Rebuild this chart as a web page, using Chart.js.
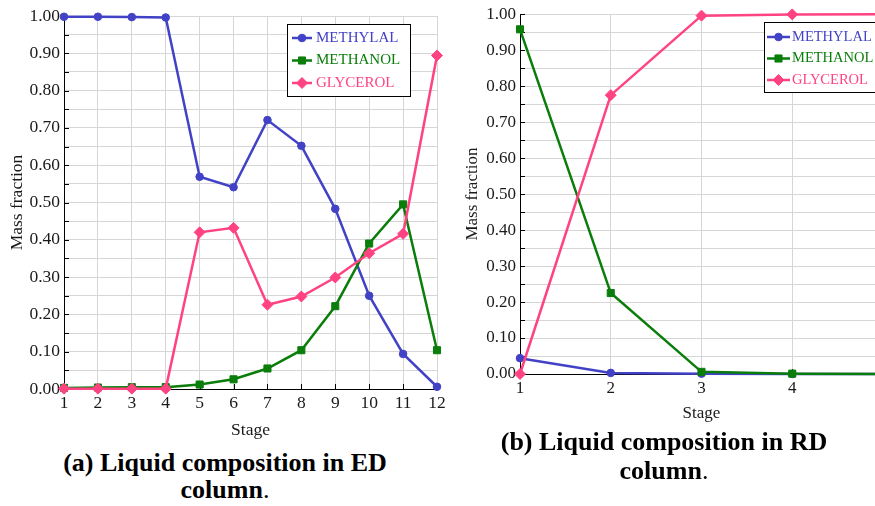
<!DOCTYPE html>
<html>
<head>
<meta charset="utf-8">
<script src="https://cdn.jsdelivr.net/npm/chart.js@4"></script>
<style>
  html, body { margin: 0; padding: 0; background: #fff; width: 875px; height: 506px; overflow: hidden; }
  .wrap { position: absolute; top: 0; }
  canvas { display: block; }
  .cap { position: absolute; text-align: center; font-family: 'Liberation Serif', 'Times New Roman', serif; font-weight: bold; font-size: 26px; color: #000; white-space: nowrap; }
  .cap .dot { font-weight: normal; }
</style>
</head>
<body>
<div class="wrap" style="left:0;"><canvas id="chartA" width="450" height="441"></canvas></div>
<div class="wrap" style="left:450px;"><canvas id="chartB" width="450" height="424"></canvas></div>
<div class="cap" style="left:0; width:450px; top:449px; line-height:27px;">(a) Liquid composition in ED<br>column<span class="dot">.</span></div>
<div class="cap" style="left:439px; width:450px; top:428px; line-height:28.5px;">(b) Liquid composition in RD<br>column<span class="dot">.</span></div>
<script>
// ---------- data ----------
const seriesNames = ['METHYLAL', 'METHANOL', 'GLYCEROL'];

// (a) ED column
const stagesA = [1, 2, 3, 4, 5, 6, 7, 8, 9, 10, 11, 12];
const methylalA = [0.998, 0.998, 0.997, 0.996, 0.569, 0.541, 0.721, 0.652, 0.483, 0.250, 0.094, 0.006];
const methanolA = [0.003, 0.004, 0.005, 0.005, 0.012, 0.026, 0.055, 0.104, 0.222, 0.390, 0.495, 0.104];
const glycerolA = [0.001, 0.001, 0.001, 0.001, 0.420, 0.432, 0.226, 0.248, 0.299, 0.364, 0.416, 0.894];

// (b) RD column
const stagesB = [1, 2, 3, 4, 5];
const methylalB = [0.044, 0.003, 0.001, 0.000, 0.000];
const methanolB = [0.958, 0.225, 0.006, 0.001, 0.000];
const glycerolB = [0.000, 0.775, 0.996, 0.9995, 1.000];

// y tick labels (grid every 0.05, label every 0.10)
const yTickLabels = ['0.00', '0.10', '0.20', '0.30', '0.40', '0.50', '0.60', '0.70', '0.80', '0.90', '1.00'];
const Y_MIN = 0, Y_MAX = 1, Y_STEP = 0.05;

// ---------- styles ----------
const BLUE = '#4242c6';
const GREEN = '#0a7d0a';
const PINK = '#ff4382';
const FONT = "'Liberation Serif', 'Times New Roman', serif";
const TEXT = '#1a1a1a';
const GRID = '#d6d6d6';

const innerTicks = {
  id: 'innerTicks',
  beforeDatasetsDraw(chart, args, opts) {
    const { ctx, chartArea, scales: { x, y } } = chart;
    ctx.save();
    ctx.strokeStyle = '#000';
    ctx.lineWidth = 1;
    ctx.beginPath();
    y.ticks.forEach((t, i) => {
      const py = Math.round(y.getPixelForTick(i)) + 0.5;
      ctx.moveTo(chartArea.left, py);
      ctx.lineTo(chartArea.left + opts.len, py);
    });
    x.ticks.forEach((t, i) => {
      const px = Math.round(x.getPixelForTick(i)) + 0.5;
      ctx.moveTo(px, chartArea.bottom);
      ctx.lineTo(px, chartArea.bottom - opts.len);
    });
    ctx.stroke();
    ctx.restore();
  }
};

const boxLegend = {
  id: 'boxLegend',
  afterDatasetsDraw(chart, args, o) {
    const ctx = chart.ctx;
    const order = o.order;
    ctx.save();
    ctx.fillStyle = '#fff';
    ctx.fillRect(o.x, o.y, o.w, o.h);
    ctx.strokeStyle = '#000';
    ctx.lineWidth = 1;
    ctx.strokeRect(o.x + 0.5, o.y + 0.5, o.w, o.h);
    order.forEach((dsIndex, row) => {
      const ds = chart.data.datasets[dsIndex];
      const cy = o.rows[row];
      ctx.strokeStyle = ds.borderColor;
      ctx.lineWidth = ds.borderWidth;
      ctx.beginPath();
      ctx.moveTo(o.lineX0, cy);
      ctx.lineTo(o.lineX1, cy);
      ctx.stroke();
      ctx.fillStyle = ds.borderColor;
      ctx.strokeStyle = ds.borderColor;
      ctx.lineWidth = 1;
      Chart.helpers.drawPoint(ctx, { pointStyle: ds.pointStyle, radius: ds.pointRadius, borderWidth: 1, rotation: 0 }, (o.lineX0 + o.lineX1) / 2, cy);
      ctx.fillStyle = ds.borderColor;
      ctx.font = o.font;
      ctx.textBaseline = 'middle';
      ctx.textAlign = 'left';
      ctx.fillText(ds.label, o.textX, cy);
    });
    ctx.restore();
  }
};

function makeDatasets(m1, m2, m3) {
  const common = { borderWidth: 2.5, pointBorderWidth: 1, tension: 0, clip: false };
  return [
    Object.assign({ label: seriesNames[0], data: m1, borderColor: BLUE, backgroundColor: BLUE, pointBackgroundColor: BLUE, pointStyle: 'circle', pointRadius: 3.8, order: 2 }, common),
    Object.assign({ label: seriesNames[1], data: m2, borderColor: GREEN, backgroundColor: GREEN, pointBackgroundColor: GREEN, pointStyle: 'rect', pointRadius: 5, order: 1 }, common),
    Object.assign({ label: seriesNames[2], data: m3, borderColor: PINK, backgroundColor: PINK, pointBackgroundColor: PINK, pointStyle: 'rectRot', pointRadius: 5.5, order: 0 }, common)
  ];
}

function makeConfig(stages, m1, m2, m3, g) {
  return {
    type: 'line',
    data: { labels: stages, datasets: makeDatasets(m1, m2, m3) },
    options: {
      responsive: false,
      animation: false,
      events: [],
      layout: { padding: g.padding },
      plugins: {
        legend: { display: false },
        tooltip: { enabled: false },
        innerTicks: { len: 5 },
        boxLegend: g.legend
      },
      scales: {
        x: {
          type: 'category',
          offset: false,
          grid: { color: GRID, lineWidth: 1, drawTicks: false },
          border: { color: '#000', width: 1 },
          ticks: { font: { family: FONT, size: g.tickSize }, color: TEXT, padding: 4, autoSkip: false, maxRotation: 0 },
          title: { display: true, text: 'Stage', font: { family: FONT, size: g.titleSize }, color: TEXT, padding: { top: 0, bottom: 0 } },
          afterFit: (s) => { s.height = g.xHeight; }
        },
        y: {
          min: Y_MIN, max: Y_MAX,
          grid: { color: GRID, lineWidth: 1, drawTicks: false },
          border: { color: '#000', width: 1 },
          ticks: {
            stepSize: Y_STEP, autoSkip: false,
            font: { family: FONT, size: g.tickSize }, color: TEXT, padding: 4,
            callback: (v, i) => (i % 2 === 0 ? yTickLabels[i / 2] : '')
          },
          title: { display: true, text: 'Mass fraction', font: { family: FONT, size: g.titleSize }, color: TEXT, padding: { top: 0, bottom: 0 } },
          afterFit: (s) => { s.width = g.yWidth; }
        }
      }
    },
    plugins: [innerTicks, boxLegend]
  };
}

new Chart(document.getElementById('chartA'), makeConfig(stagesA, methylalA, methanolA, glycerolA, {
  padding: { left: 7, right: 13, top: 16, bottom: 0 },
  yWidth: 57, xHeight: 52, tickSize: 17.5, titleSize: 17.5,
  legend: { x: 287, y: 24, w: 123, h: 72, rows: [38, 60.5, 83], lineX0: 292, lineX1: 312, textX: 316, font: "15px 'Liberation Serif', serif", order: [0, 1, 2] }
}));

new Chart(document.getElementById('chartB'), makeConfig(stagesB, methylalB, methanolB, glycerolB, {
  padding: { left: 12.6, right: 17, top: 12.3, bottom: 0 },
  yWidth: 57.4, xHeight: 50, tickSize: 17, titleSize: 17,
  legend: { x: 314, y: 22, w: 130, h: 70, rows: [37, 58.5, 80], lineX0: 317, lineX1: 340, textX: 342, font: "14.5px 'Liberation Serif', serif", order: [0, 1, 2] }
}));
</script>
</body>
</html>
